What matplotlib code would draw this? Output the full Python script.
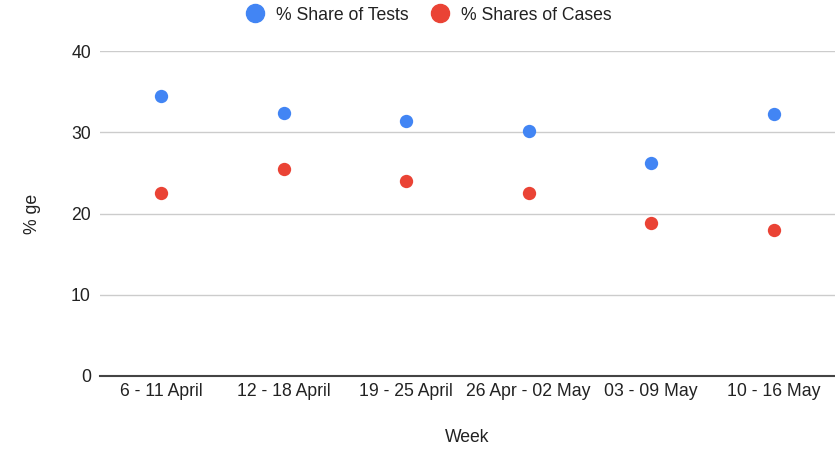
import numpy as np
import matplotlib
matplotlib.use("Agg")
import matplotlib.pyplot as plt
from matplotlib.lines import Line2D

plt.rcParams['font.family'] = ['Liberation Sans', 'DejaVu Sans']

weeks = ["6 - 11 April", "12 - 18 April", "19 - 25 April",
         "26 Apr - 02 May", "03 - 09 May", "10 - 16 May"]
share_tests = [34.5, 32.4, 31.4, 30.1, 26.2, 32.3]
share_cases = [22.5, 25.5, 24.0, 22.5, 18.8, 18.0]
yticks = [0, 10, 20, 30, 40]

blue = "#4285F4"
red = "#EA4335"
txt = "#222222"
fs = 12.7

fig = plt.figure(figsize=(8.35, 4.49), dpi=100)
ax = fig.add_axes([100/835, 1 - 376/449, 735/835, 325/449])

x = np.arange(len(weeks))
ax.scatter(x, share_tests, s=92, color=blue, zorder=3, linewidths=0)
ax.scatter(x, share_cases, s=92, color=red, zorder=3, linewidths=0)

ax.set_xlim(-0.5, len(weeks) - 0.5)
ax.set_ylim(0, 40)
ax.set_yticks(yticks)
ax.set_xticks(x)
ax.set_xticklabels(weeks)
ax.tick_params(axis='both', length=0, labelsize=fs, colors=txt)
ax.tick_params(axis='y', pad=6.5)
ax.tick_params(axis='x', pad=5)

ax.grid(axis='y', color="#cccccc", linewidth=1)
ax.set_axisbelow(True)
for s in ['top', 'right', 'left']:
    ax.spines[s].set_visible(False)
ax.spines['bottom'].set_color("#444444")
ax.spines['bottom'].set_linewidth(1.5)

ax.set_xlabel("Week", fontsize=fs, color=txt, labelpad=21)
ax.set_ylabel("% ge", fontsize=fs, color=txt, labelpad=22)

handles = [Line2D([], [], marker='o', linestyle='', color=blue, markersize=13),
           Line2D([], [], marker='o', linestyle='', color=red, markersize=13)]
fig.legend(handles, ["% Share of Tests", "% Shares of Cases"],
           loc='center', bbox_to_anchor=(428/835, 1 - 15/449), ncol=2,
           frameon=False, fontsize=fs, handletextpad=0.6, columnspacing=1.2,
           handlelength=1.2, labelcolor=txt)

fig.savefig("out.png", dpi=100)
